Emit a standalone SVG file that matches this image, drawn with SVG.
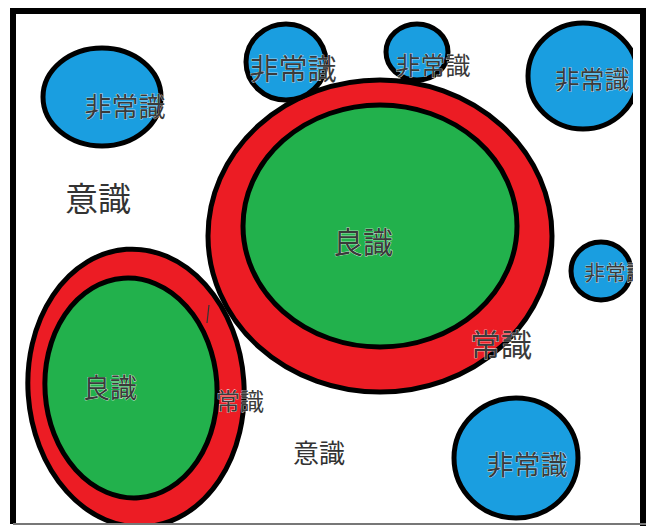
<svg xmlns="http://www.w3.org/2000/svg" width="646" height="526" viewBox="0 0 646 526">
<defs>
<style>
.blue{fill:#1a9ee0;stroke:#000;stroke-width:5}
.red{fill:#ec1c24;stroke:#000;stroke-width:5}
.green{fill:#22b14c;stroke:#000;stroke-width:5}
text{font-family:"Noto Sans CJK JP","Noto Sans",sans-serif;fill:#333;text-anchor:middle;dominant-baseline:central}
.lbl{fill:#3a3a3a;stroke:#fff;stroke-width:0.6;paint-order:stroke}
</style>
<clipPath id="frameclip"><rect x="16" y="14" width="617" height="509"/></clipPath>
</defs>
<rect width="646" height="526" fill="#fff"/>
<g id="frame">
<path d="M13 524 V11 H643 V526" fill="none" stroke="#000" stroke-width="6"/>
<line x1="13" y1="524" x2="646" y2="524" stroke="#777" stroke-width="2"/>
</g>
<g clip-path="url(#frameclip)">
<g id="jouShiki-left">
<ellipse class="red" cx="136" cy="388" rx="108" ry="139" transform="rotate(-4 136 388)"/>
<ellipse class="green" cx="131" cy="388" rx="86" ry="110" transform="rotate(-4 131 388)"/>
<text class="lbl" x="110" y="386" font-size="27">良識</text>
</g>
<g id="jouShiki-big">
<ellipse class="red" cx="380" cy="236" rx="172" ry="156"/>
<ellipse class="green" cx="380" cy="226" rx="137" ry="121"/>
<text class="lbl" x="363" y="240" font-size="30">良識</text>
</g>
<path d="M209 305 L207 323" stroke="#333" stroke-width="1.2" fill="none"/>
<g id="hijou-a">
<ellipse class="blue" cx="102" cy="97" rx="59" ry="49"/>
<text class="lbl" x="125" y="105" font-size="27">非常識</text>
</g>
<g id="hijou-b">
<ellipse class="blue" cx="286" cy="62" rx="40" ry="38"/>
<text class="lbl" x="293" y="67" font-size="29">非常識</text>
</g>
<g id="hijou-c">
<ellipse class="blue" cx="417" cy="52" rx="31" ry="28"/>
<text class="lbl" x="433" y="64" font-size="25">非常識</text>
</g>
<g id="hijou-d">
<ellipse class="blue" cx="583" cy="76" rx="55" ry="53"/>
<text class="lbl" x="592" y="78" font-size="25">非常識</text>
</g>
<g id="hijou-e">
<ellipse class="blue" cx="601" cy="271" rx="30" ry="29"/>
<clipPath id="eclip"><rect x="560" y="250" width="73" height="45"/></clipPath>
<text class="lbl" x="584" y="271" font-size="21" style="text-anchor:start" clip-path="url(#eclip)">非常識</text>
</g>
<g id="hijou-f">
<ellipse class="blue" cx="516" cy="458" rx="62" ry="60"/>
<text class="lbl" x="527" y="463" font-size="27">非常識</text>
</g>
<g id="labels">
<text x="98" y="197" font-size="33">意識</text>
<text class="lbl" x="501" y="342" font-size="31">常識</text>
<text class="lbl" x="240" y="399" font-size="24">常識</text>
<text x="319" y="451" font-size="26">意識</text>
</g>
</g>
</svg>
